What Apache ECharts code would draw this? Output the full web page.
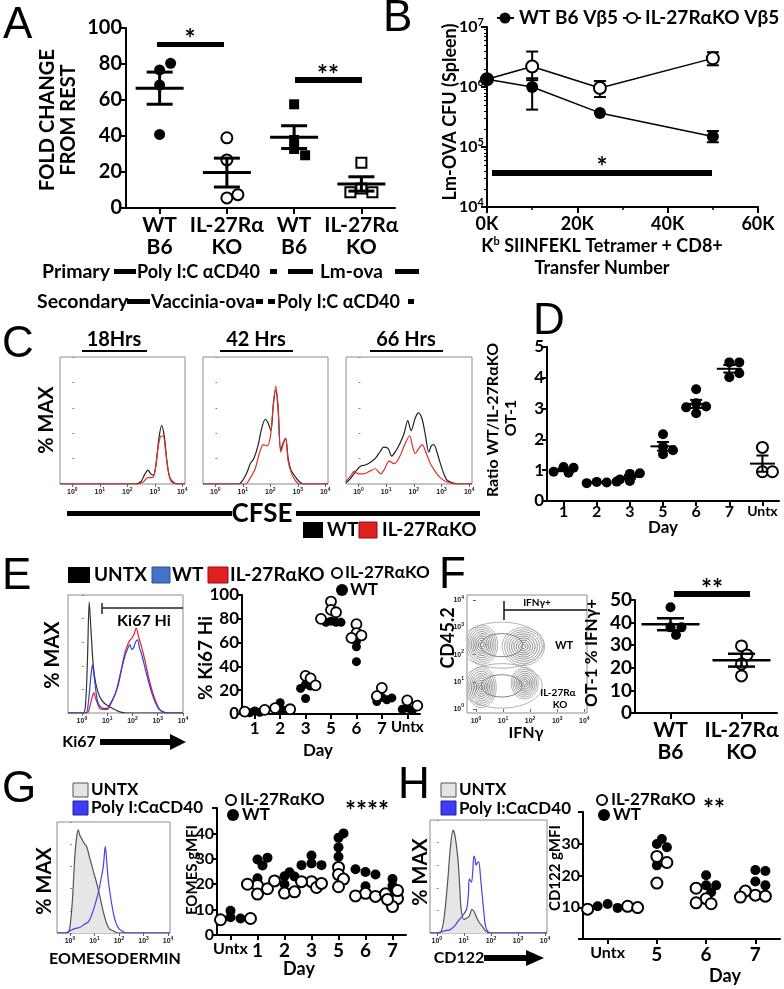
<!DOCTYPE html>
<html><head><meta charset="utf-8">
<script src="https://cdn.jsdelivr.net/npm/echarts@6/dist/echarts.min.js"></script>
<style>html,body{margin:0;padding:0;background:#fff}#c{width:784px;height:989px}</style>
</head><body><div id="c"></div>
<script>
const FF = 'Lato, "Open Sans", sans-serif';

// ---------- DATA ----------
// A
const aCats = ['WT\nB6', 'IL-27R\u03b1\nKO', 'WT\nB6', 'IL-27R\u03b1\nKO'];
const aWT_poly = [76.7, 80.4, 68.3, 40.9];
const aKO_poly = [39.0, 26.7, 5.6, 7.4];
const aWT_lm = [57.6, 37.8, 32.8, 29.3];
const aKO_lm = [25.2, 10.9, 8.7, 8.7];
// B
const bX = [0, 10000, 25000, 50000];
const bWT = [1.35e6, 1.0e6, 3.7e5, 1.5e5];
const bWTlo = [1.35e6, 4.2e5, 3.7e5, 1.2e5];
const bWThi = [1.35e6, 1.4e6, 3.7e5, 1.85e5];
const bKO = [1.35e6, 2.2e6, 9.6e5, 3.0e6];
const bKOlo = [1.35e6, 1.3e6, 6.8e5, 2.3e6];
const bKOhi = [1.35e6, 3.9e6, 1.26e6, 3.8e6];
// C (x = log10 CFSE, y = % max)
const c18WT = [[-0.45,0],[2.3,0],[2.5,2],[2.62,7],[2.75,11],[2.85,8],[2.95,7],[3.05,16],[3.15,36],[3.25,46],[3.35,37],[3.45,16],[3.55,5],[3.7,1],[3.9,0],[4.1,0]];
const c18KO = [[-0.45,0],[2.4,0],[2.6,2],[2.75,5],[2.9,5],[3.0,9],[3.1,26],[3.2,37],[3.3,38],[3.4,25],[3.5,9],[3.6,2],[3.8,0],[4.1,0]];
const c42WT = [[-0.45,0],[0.85,0],[1.0,3],[1.15,9],[1.27,16],[1.4,20],[1.55,30],[1.7,45],[1.82,51],[1.92,48],[2.02,42],[2.12,65],[2.2,74],[2.28,60],[2.38,27],[2.48,33],[2.56,36],[2.65,20],[2.75,11],[2.9,6],[3.05,2],[3.2,0],[4.1,0]];
const c42KO = [[-0.45,0],[1.1,0],[1.25,4],[1.45,12],[1.6,24],[1.75,31],[1.88,30],[2.0,37],[2.1,60],[2.2,77],[2.28,62],[2.38,25],[2.48,32],[2.56,36],[2.65,18],[2.78,8],[2.9,3],[3.05,0],[4.1,0]];
const c66WT = [[-0.45,1],[-0.3,4],[-0.1,10],[0.07,14],[0.25,15],[0.42,17],[0.6,20],[0.8,26],[0.9,29],[1.07,28],[1.2,22],[1.35,26],[1.5,32],[1.65,40],[1.78,50],[1.9,42],[2.05,52],[2.17,56],[2.3,51],[2.42,38],[2.54,25],[2.63,30],[2.72,31],[2.85,24],[2.96,16],[3.1,7],[3.2,3],[3.4,1],[3.6,0],[4.1,0]];
const c66KO = [[-0.45,2],[-0.3,6],[-0.15,10],[0.0,8],[0.18,8],[0.4,10],[0.6,12],[0.8,8],[0.95,12],[1.1,18],[1.3,16],[1.5,22],[1.65,30],[1.85,38],[1.95,30],[2.05,24],[2.18,28],[2.3,31],[2.45,24],[2.6,16],[2.8,9],[2.95,5],[3.15,2],[3.3,1],[3.5,0],[4.1,0]];
// D
const dCats = ['1', '2', '3', '5', '6', '7', 'Untx'];
const dWT = [[1.1,1.08,0.92,0.95],[0.62,0.6,0.58,0.63],[0.88,0.9,0.65,0.7],[2.17,1.76,1.65,1.52],[3.63,3.17,3.07,3.04,2.85],[4.5,4.5,4.02,4.15],[]];
const dUntx = [1.74, 0.95, 0.95];
// E
const eUntxHist = [[-0.55,0],[0.05,0],[0.15,10],[0.22,45],[0.29,94],[0.36,70],[0.45,40],[0.55,25],[0.7,14],[0.9,8],[1.2,4],[1.5,1],[1.75,0],[4.0,0]];
const eWTHist = [[-0.55,0],[0.15,0],[0.25,8],[0.35,30],[0.42,41],[0.5,28],[0.6,12],[0.7,6],[0.85,4],[1.0,4],[1.15,9],[1.25,13],[1.35,18],[1.45,25],[1.58,38],[1.7,48],[1.8,54],[1.9,58],[1.97,54],[2.04,55],[2.12,60],[2.2,62],[2.28,55],[2.36,50],[2.5,38],[2.62,28],[2.75,18],[2.9,9],[3.05,3],[3.2,1],[3.4,0],[4.0,0]];
const eKOHist = [[-0.55,0],[0.2,0],[0.32,6],[0.4,13],[0.47,17],[0.55,12],[0.7,4],[0.85,3],[1.0,3],[1.15,8],[1.3,15],[1.4,22],[1.55,36],[1.7,51],[1.85,60],[1.96,63],[2.05,66],[2.15,72],[2.25,64],[2.36,56],[2.5,44],[2.62,32],[2.75,21],[2.9,11],[3.05,4],[3.2,1],[3.4,0],[4.0,0]];
const eCats = ['1', '2', '3', '5', '6', '7', 'Untx'];
const eWT = [[2.5,1.5,1],[9.5,4.5,3],[25,23.5,21.5,13],[78,77,77,77],[61,56.5,44],[14,12,10.5,13.5],[5,3,4]];
const eKO = [[3.5,2],[5,4],[32,30,24],[94.5,87.5,85.5,80],[75.5,68,66,64],[22,15],[11.5,7]];
// F
const fBlobs = [[0.22,2.37,0.58,0.72,9],[1.75,2.3,0.78,0.7,9],[0.2,0.8,0.55,0.75,9],[1.8,0.95,0.5,0.58,8],[0.95,2.35,1.55,0.85,2],[0.95,0.85,1.5,0.82,2]];
const fCats = ['WT\nB6', 'IL-27R\u03b1\nKO'];
const fWT = [46.8, 37.9, 37.9, 34.5];
const fKO = [29.7, 25.7, 21.7, 16.4];
// G
const gUntxHist = [[-0.53,0],[-0.1,0],[0.0,6],[0.1,30],[0.2,70],[0.28,88],[0.34,93],[0.4,88],[0.5,84],[0.6,80],[0.68,78],[0.8,68],[0.95,56],[1.1,44],[1.22,33],[1.35,20],[1.49,9],[1.6,4],[1.76,2],[1.95,0],[4.08,0]];
const gPolyHist = [[-0.53,0],[-0.2,0],[0.0,2],[0.2,4],[0.4,5],[0.6,8],[0.75,10],[0.88,16],[1.0,24],[1.15,36],[1.28,50],[1.36,60],[1.44,78],[1.5,64],[1.56,48],[1.66,32],[1.76,19],[1.86,10],[1.96,5],[2.1,2],[2.3,0],[4.08,0]];
const gCats = ['Untx', '1', '2', '3', '5', '6', '7'];
const gWT = [[9.5,7,6.5],[29.7,30.4,27.4,22.3],[23.1,24.7,23,20],[31.3,28.2,27.5,27.5],[38.3,40,34.5,30.8],[24.8,23.8,25.9,19.2],[22,19.4,16]];
const gKO = [[6,6.5],[19.5,18.2,16.1,20],[21.3,16.5,17],[21,18.7,20.3,21],[26.6,23.8,22,19],[16.4,15.2,15.4,16.2],[14.3,11.2,17.5,14]];
// H
const hUntxHist = [[-0.25,0],[0.1,0],[0.25,10],[0.4,45],[0.5,75],[0.6,91],[0.68,85],[0.79,63],[0.85,40],[0.9,21],[1.0,12],[1.1,13],[1.2,15],[1.3,21],[1.38,19],[1.45,15],[1.55,10],[1.68,6],[1.8,2],[1.95,0],[4.07,0]];
const hPolyHist = [[-0.25,0],[0.0,0],[0.3,2],[0.5,3],[0.65,6],[0.8,11],[0.95,15],[1.1,21],[1.17,35],[1.2,48],[1.28,45],[1.33,55],[1.37,68],[1.41,66],[1.45,60],[1.5,62],[1.55,63],[1.62,48],[1.68,33],[1.74,18],[1.8,6],[1.9,1],[2.0,0],[4.07,0]];
const hCats = ['Untx', '5', '6', '7'];
const hWT = [[11,9.8,10.3],[29.9,28.9,31.5,23.2],[16.9,20.1,16.9,14.7],[21.7,21.4,18.1,16.9]];
const hKO = [[10.3,9.4,9.9],[24.1,26,17.6],[12.7,16,11.1,11.4],[13.8,13.5,15.1,13.2]];

// ---------- BUILDERS ----------
const grids = [], xAxes = [], yAxes = [], series = [], G = [];
function grid(l, t, w, h, box) { grids.push({left: l, top: t, width: w, height: h, containLabel: false, show: !!box, borderColor: '#8c8c8c', borderWidth: 1}); return grids.length - 1; }
function ax(arr, cfg) { arr.push(cfg); return arr.length - 1; }
function lab(size, extra) { return Object.assign({color: '#000', fontSize: size, fontWeight: 'bold', fontFamily: FF}, extra || {}); }
const LINE = {show: true, onZero: false, lineStyle: {color: '#000', width: 2}};
function tick(len, extra) { return Object.assign({show: true, length: len, lineStyle: {color: '#000', width: 2}}, extra || {}); }

function swarm(groups, ppu, d, gap) {
  const placed = [], out = groups.map(g => g.map(() => 0));
  groups.forEach((g, s) => g.forEach((v, i) => {
    const y = v * ppu; const cand = [0];
    for (let k = 1; k < 14; k++) cand.push(k * d * 0.5, -k * d * 0.5);
    for (const dx of cand) {
      if (placed.every(p => Math.hypot(p.x - dx, p.y - y) >= d * gap)) { placed.push({x: dx, y}); out[s][i] = dx; break; }
    }
  }));
  return out;
}
function catScatter(xi, yi, defs, ppu, d, gap) {
  const nCat = defs[0].data.length; const offs = defs.map(() => []);
  for (let c = 0; c < nCat; c++) {
    const o = swarm(defs.map(df => df.data[c] || []), ppu, d, gap || 0.85);
    defs.forEach((df, s) => { offs[s][c] = o[s]; });
  }
  defs.forEach((df, s) => {
    const data = [];
    df.data.forEach((arr, c) => (arr || []).forEach((v, i) => data.push({value: [c, v], symbolOffset: [offs[s][c][i], 0]})));
    series.push({type: 'scatter', xAxisIndex: xi, yAxisIndex: yi, symbol: df.symbol || 'circle', symbolSize: df.size || d, data, z: 3 + s, silent: true,
      itemStyle: df.filled ? {color: '#000', opacity: 1} : {color: '#fff', borderColor: '#000', borderWidth: df.bw || 2, opacity: 1}});
  });
}
function meanSem(xi, yi, groups, mw, cw, lw) {
  const data = [];
  groups.forEach((g, c) => {
    if (!g.length) return;
    const m = g.reduce((a, b) => a + b, 0) / g.length;
    const sd = Math.sqrt(g.reduce((a, b) => a + (b - m) * (b - m), 0) / (g.length - 1));
    const se = sd / Math.sqrt(g.length);
    data.push([c, m, m - se, m + se]);
  });
  series.push({type: 'custom', xAxisIndex: xi, yAxisIndex: yi, data, z: 8, silent: true, renderItem: (p, api) => {
    const c = api.coord([api.value(0), api.value(1)]);
    const lo = api.coord([api.value(0), api.value(2)]);
    const hi = api.coord([api.value(0), api.value(3)]);
    const st = {stroke: '#000', lineWidth: lw};
    return {type: 'group', children: [
      {type: 'line', shape: {x1: c[0] - mw / 2, y1: c[1], x2: c[0] + mw / 2, y2: c[1]}, style: st},
      {type: 'line', shape: {x1: c[0], y1: lo[1], x2: c[0], y2: hi[1]}, style: st},
      {type: 'line', shape: {x1: c[0] - cw / 2, y1: lo[1], x2: c[0] + cw / 2, y2: lo[1]}, style: st},
      {type: 'line', shape: {x1: c[0] - cw / 2, y1: hi[1], x2: c[0] + cw / 2, y2: hi[1]}, style: st}]};
  }});
}
const SUP = {b: {fontSize: 7, fontWeight: 'bold', color: '#222', fontFamily: 'Liberation Sans'}, s: {fontSize: 5, fontWeight: 'bold', color: '#222', fontFamily: 'Liberation Sans', padding: [0, 0, 6, 0]}};
function flowX(gi, xr) {
  return ax(xAxes, {gridIndex: gi, type: 'value', min: xr[0], max: xr[1], axisLine: {show: false}, splitLine: {show: false},
    axisTick: {show: true, customValues: [0, 1, 2, 3, 4], length: 3, lineStyle: {color: '#666', width: 1}},
    axisLabel: {customValues: [0, 1, 2, 3, 4], margin: 3, formatter: v => '{b|10}{s|' + v + '}', rich: SUP}});
}
function flow(l, t, w, h, xr, curves) {
  const gi = grid(l, t, w, h, true);
  const xi = flowX(gi, xr);
  const yi = ax(yAxes, {gridIndex: gi, type: 'value', min: 0, max: 100, interval: 20, axisLine: {show: false}, splitLine: {show: false}, axisLabel: {show: false}, axisTick: {show: true, inside: true, length: 2, lineStyle: {color: '#888', width: 1}}});
  curves.forEach(cv => series.push({type: 'line', xAxisIndex: xi, yAxisIndex: yi, data: cv.data, showSymbol: false, symbol: 'none', smooth: 0.3, silent: true, z: cv.z || 2,
    lineStyle: {color: cv.color, width: cv.w || 1.2}, areaStyle: cv.fill ? {color: cv.fill, opacity: 1} : undefined}));
}
// graphics helpers
function T(x, y, text, size, o) {
  o = o || {};
  G.push({type: 'text', x, y, rotation: o.rot || 0, z: 50, style: {text, fontSize: size, fontWeight: o.w || 'bold', fontFamily: o.ff || FF, fill: o.c || '#000',
    align: o.a || 'center', verticalAlign: 'middle', textAlign: o.a || 'center', textVerticalAlign: 'middle', lineHeight: o.lh || size * 1.15}});
}
function R(x, y, w, h, fill, stroke, lw) { G.push({type: 'rect', z: 50, shape: {x, y, width: w, height: h}, style: {fill, stroke: stroke || null, lineWidth: lw || 0}}); }
function L(x1, y1, x2, y2, lw, c) { G.push({type: 'line', z: 50, shape: {x1, y1, x2, y2}, style: {stroke: c || '#000', lineWidth: lw}}); }
function Cir(cx, cy, r, filled) { G.push({type: 'circle', z: 51, shape: {cx, cy, r}, style: filled ? {fill: '#000'} : {fill: '#fff', stroke: '#000', lineWidth: 2}}); }
function Arrow(x1, x2, y, th, hw, hl) { R(x1, y - th / 2, x2 - x1 - hl + 2, th, '#000'); G.push({type: 'polygon', z: 50, shape: {points: [[x2 - hl, y - hw], [x2, y], [x2 - hl, y + hw]]}, style: {fill: '#000'}}); }
const LET = '44px "Liberation Sans", Arial, sans-serif';
function Letter(x, y, t) { G.push({type: 'text', x, y, z: 50, style: {text: t, font: LET, fill: '#000', align: 'left', verticalAlign: 'middle', textAlign: 'left', textVerticalAlign: 'middle'}}); }

// ---------- PANEL A ----------
{
  const gi = grid(126, 28, 269, 180);
  const xi = ax(xAxes, {gridIndex: gi, type: 'category', data: aCats, axisLine: LINE, axisTick: tick(6, {alignWithLabel: true}), splitLine: {show: false}, axisLabel: lab(21, {lineHeight: 22, margin: 6, interval: 0})});
  const yi = ax(yAxes, {gridIndex: gi, type: 'value', min: 0, max: 100, interval: 20, axisLine: LINE, axisTick: tick(6), splitLine: {show: false}, axisLabel: lab(20, {margin: 4})});
  catScatter(xi, yi, [
    {data: [aWT_poly, [], [], []], filled: true, size: 11},
    {data: [[], aKO_poly, [], []], filled: false, size: 11},
    {data: [[], [], aWT_lm, []], filled: true, symbol: 'rect', size: 10},
    {data: [[], [], [], aKO_lm], filled: false, symbol: 'rect', size: 10}], 1.8, 11, 0.8);
  meanSem(xi, yi, [aWT_poly, aKO_poly, aWT_lm, aKO_lm], 48, 26, 3);
  Letter(3, 26, 'A');
  T(58, 120, 'FOLD CHANGE\nFROM REST', 20, {rot: Math.PI / 2, lh: 21});
  R(157, 42, 67, 5, '#000'); T(190, 40, '*', 26);
  R(295, 77, 67, 6, '#000'); T(328, 76, '**', 26);
  // treatment rows
  T(42, 272, 'Primary', 19.5, {a: 'left'}); R(114, 269, 22, 5, '#000');
  T(137, 272, 'Poly I:C \u03b1CD40', 18, {a: 'left'}); R(270, 269, 7, 5, '#000');
  R(288, 269, 25, 5, '#000'); T(320, 272, 'Lm-ova', 19, {a: 'left'}); R(395, 269, 24, 5, '#000');
  T(37, 302, 'Secondary', 19.5, {a: 'left'}); R(127, 299, 23, 5, '#000');
  T(151, 302, 'Vaccinia-ova', 18.5, {a: 'left'}); R(256, 299, 7, 5, '#000');
  R(268, 299, 7, 5, '#000'); T(277, 302, 'Poly I:C \u03b1CD40', 18, {a: 'left'}); R(408, 299, 6, 5, '#000');
}
// ---------- PANEL B ----------
{
  const gi = grid(487, 27, 271, 180);
  const xi = ax(xAxes, {gridIndex: gi, type: 'value', min: 0, max: 60000, interval: 20000, axisLine: LINE, axisTick: tick(6), splitLine: {show: false},
    minorTick: {show: true, splitNumber: 2, length: 3, lineStyle: {color: '#000', width: 1.5}}, axisLabel: lab(18, {margin: 8, formatter: v => (v / 1000) + 'K'})});
  const yi = ax(yAxes, {gridIndex: gi, type: 'value', min: 4, max: 7, interval: 1, axisLine: LINE, axisTick: tick(6), splitLine: {show: false},
    axisLabel: {margin: 3, formatter: v => '{b|10}{s|' + v + '}', rich: {b: lab(16), s: lab(11, {padding: [0, 0, 10, 0]})}}});
  const minor = [];
  [4, 5, 6].forEach(n => { for (let k = 2; k <= 9; k++) minor.push(n + Math.log10(k)); });
  ax(yAxes, {gridIndex: gi, type: 'value', min: 4, max: 7, position: 'left', offset: 0, axisLine: {show: false}, splitLine: {show: false}, axisLabel: {show: false},
    axisTick: {show: true, customValues: minor, length: 3, lineStyle: {color: '#000', width: 1}}});
  const eb = (lo, hi) => bX.map((x, i) => [x, Math.log10(lo[i]), Math.log10(hi[i])]);
  const ebRender = (p, api) => {
    const a = api.coord([api.value(0), api.value(1)]), b = api.coord([api.value(0), api.value(2)]);
    if (Math.abs(a[1] - b[1]) < 1) return {type: 'group', children: []};
    const st = {stroke: '#000', lineWidth: 2};
    return {type: 'group', children: [
      {type: 'line', shape: {x1: a[0], y1: a[1], x2: b[0], y2: b[1]}, style: st},
      {type: 'line', shape: {x1: a[0] - 6, y1: a[1], x2: a[0] + 6, y2: a[1]}, style: st},
      {type: 'line', shape: {x1: b[0] - 6, y1: b[1], x2: b[0] + 6, y2: b[1]}, style: st}]};
  };
  series.push({type: 'custom', xAxisIndex: xi, yAxisIndex: yi, data: eb(bKOlo, bKOhi), renderItem: ebRender, z: 2, silent: true});
  series.push({type: 'custom', xAxisIndex: xi, yAxisIndex: yi, data: eb(bWTlo, bWThi), renderItem: ebRender, z: 2, silent: true});
  series.push({type: 'line', xAxisIndex: xi, yAxisIndex: yi, data: bX.map((x, i) => [x, Math.log10(bKO[i])]), symbol: 'circle', symbolSize: 12, silent: true, z: 3,
    lineStyle: {color: '#000', width: 1.5}, itemStyle: {color: '#fff', borderColor: '#000', borderWidth: 2}});
  series.push({type: 'line', xAxisIndex: xi, yAxisIndex: yi, data: bX.map((x, i) => [x, Math.log10(bWT[i])]), symbol: 'circle', symbolSize: 12, silent: true, z: 4,
    lineStyle: {color: '#000', width: 1.5}, itemStyle: {color: '#000'}});
  Letter(383, 19, 'B');
  L(497, 18, 514, 18, 2); Cir(505, 18, 5.5, true); T(519, 18, 'WT B6 V\u03b25', 19, {a: 'left'});
  L(623, 18, 641, 18, 2); Cir(632, 18, 5, false); T(645, 18, 'IL-27R\u03b1KO V\u03b25', 19, {a: 'left'});
  T(450, 112, 'Lm-OVA CFU (Spleen)', 18, {rot: Math.PI / 2});
  T(602, 246, 'K{sp|b} SIINFEKL Tetramer + CD8+', 18);
  G[G.length - 1].style.rich = {sp: lab(11, {padding: [0, 0, 9, 0]})};
  T(602, 268, 'Transfer Number', 18);
  R(492, 170, 220, 6, '#000'); T(602, 168, '*', 26);
}
// ---------- PANEL C ----------
{
  flow(60, 357, 125, 127, [-0.45, 4.1], [{data: c18WT, color: '#222'}, {data: c18KO, color: '#e0302a'}]);
  flow(203, 357, 125, 127, [-0.45, 4.1], [{data: c42WT, color: '#222'}, {data: c42KO, color: '#e0302a'}]);
  flow(346, 357, 126, 127, [-0.45, 4.1], [{data: c66WT, color: '#222'}, {data: c66KO, color: '#e0302a'}]);
  Letter(2, 345, 'C');
  T(114, 340, '18Hrs', 20); L(82, 351, 147, 351, 2);
  T(256, 340, '42 Hrs', 20); L(220, 351, 293, 351, 2);
  T(406, 340, '66 Hrs', 20); L(370, 351, 443, 351, 2);
  T(47, 420, '% MAX', 20, {rot: Math.PI / 2});
  R(67, 511, 165, 5, '#000'); T(262, 514, 'CFSE', 26); R(296, 511, 184, 5, '#000');
  R(303, 522, 20, 16, '#000'); T(327, 530, 'WT', 19, {a: 'left'});
  R(359, 522, 18, 16, '#e0201c', '#8a1010', 1); T(382, 530, 'IL-27R\u03b1KO', 19, {a: 'left'});
}
// ---------- PANEL D ----------
{
  const gi = grid(547, 347, 232, 154);
  const xi = ax(xAxes, {gridIndex: gi, type: 'category', data: dCats, axisLine: LINE, axisTick: tick(5, {alignWithLabel: true}), splitLine: {show: false},
    axisLabel: lab(16, {margin: 3, interval: 0, formatter: v => v === 'Untx' ? '{u|Untx}' : v, rich: {u: lab(14)}})});
  const yi = ax(yAxes, {gridIndex: gi, type: 'value', min: 0, max: 5, interval: 1, axisLine: LINE, axisTick: tick(5), splitLine: {show: false}, axisLabel: lab(17, {margin: 3})});
  catScatter(xi, yi, [{data: dWT, filled: true, size: 10}, {data: [[], [], [], [], [], [], dUntx], filled: false, size: 11}], 30.8, 10, 0.7);
  meanSem(xi, yi, dWT.slice(0, 6).concat([dUntx]), 25, 12, 2);
  Letter(533, 322, 'D');
  T(493, 420, 'Ratio WT/IL-27R\u03b1KO', 16, {rot: Math.PI / 2});
  T(511, 418, 'OT-1', 16, {rot: Math.PI / 2});
  T(663, 528, 'Day', 17);
}
// ---------- PANEL E ----------
{
  flow(68, 595, 115, 118, [-0.55, 4.0], [{data: eUntxHist, color: '#333'}, {data: eKOHist, color: '#e0202a'}, {data: eWTHist, color: '#3040d8'}]);
  const gi = grid(242, 595, 178, 119);
  const xi = ax(xAxes, {gridIndex: gi, type: 'category', data: eCats, axisLine: LINE, axisTick: tick(5, {alignWithLabel: true}), splitLine: {show: false},
    axisLabel: lab(17, {margin: 6, interval: 0, formatter: v => v === 'Untx' ? '{u|Untx}' : v, rich: {u: lab(15)}})});
  const yi = ax(yAxes, {gridIndex: gi, type: 'value', min: 0, max: 100, interval: 20, axisLine: LINE, axisTick: tick(5), splitLine: {show: false}, axisLabel: lab(17, {margin: 3})});
  catScatter(xi, yi, [{data: eWT, filled: true, size: 9}, {data: eKO, filled: false, size: 10, bw: 1.8}], 1.19, 10, 0.5);
  Letter(2, 577, 'E');
  R(68, 567, 22, 16, '#000'); T(94, 575, 'UNTX', 19, {a: 'left'});
  R(152, 567, 18, 16, '#4472c4', '#2f528f', 1); T(172, 575, 'WT', 19, {a: 'left'});
  R(208, 567, 20, 16, '#e0201c', '#8a1010', 1); T(230, 575, 'IL-27R\u03b1KO', 19, {a: 'left'});
  Cir(337, 573, 5, false); T(345, 573, 'IL-27R\u03b1KO', 17, {a: 'left'});
  Cir(342, 590, 6, true); T(350, 590, 'WT', 17, {a: 'left'});
  L(102, 608, 183, 608, 1.5, '#222'); L(102, 603, 102, 614, 1.5, '#222');
  T(144, 621, 'Ki67 Hi', 16);
  T(53, 655, '% MAX', 20, {rot: Math.PI / 2});
  T(79, 742, 'Ki67', 16); Arrow(100, 186, 742, 6, 8, 16);
  T(206, 658, '% Ki67 Hi', 19, {rot: Math.PI / 2});
  T(318, 751, 'Day', 17);
}
// ---------- PANEL F ----------
{
  const gi = grid(467, 595, 120, 118, true);
  const xi = flowX(gi, [-0.33, 4.1]);
  const yi = ax(yAxes, {gridIndex: gi, type: 'value', min: -0.15, max: 4.2, axisLine: {show: false}, splitLine: {show: false},
    axisTick: {show: true, customValues: [0, 1, 2, 3, 4], length: 3, lineStyle: {color: '#666', width: 1}},
    axisLabel: {customValues: [0, 1, 2, 3, 4], margin: 3, formatter: v => '{b|10}{s|' + v + '}', rich: SUP}});
  series.push({type: 'custom', xAxisIndex: xi, yAxisIndex: yi, data: fBlobs, clip: true, silent: true, z: 2, renderItem: (p, api) => {
    const c = api.coord([api.value(0), api.value(1)]); const sz = api.size([api.value(2), api.value(3)]); const n = api.value(4);
    const ch = [];
    for (let k = n; k >= 1; k--) {
      const f = k / n; const pts = [];
      for (let a = 0; a < 48; a++) { const t = a / 48 * 2 * Math.PI; pts.push([c[0] + Math.cos(t) * sz[0] * f, c[1] + Math.sin(t) * sz[1] * f]); }
      const g = Math.round(60 + 110 * f);
      ch.push({type: 'polygon', shape: {points: pts}, style: {fill: null, stroke: 'rgb(' + g + ',' + g + ',' + g + ')', lineWidth: 0.9}});
    }
    return {type: 'group', children: ch};
  }});
  L(504, 610, 587, 610, 1.5, '#111'); L(504, 601, 504, 620, 1.5, '#111');
  T(537, 603, 'IFN\u03b3+', 10);
  T(564, 645, 'WT', 11); T(558, 693, 'IL-27R\u03b1', 10); T(560, 705, 'KO', 10);
  T(448, 638, 'CD45.2', 18, {rot: Math.PI / 2});
  T(526, 733, 'IFN\u03b3', 16);
  Letter(439, 576, 'F');

  const g2 = grid(635, 600, 142, 113);
  const x2 = ax(xAxes, {gridIndex: g2, type: 'category', data: fCats, axisLine: LINE, axisTick: tick(6, {alignWithLabel: true}), splitLine: {show: false}, axisLabel: lab(21, {lineHeight: 22, margin: 6, interval: 0})});
  const y2 = ax(yAxes, {gridIndex: g2, type: 'value', min: 0, max: 50, interval: 10, axisLine: LINE, axisTick: tick(5), splitLine: {show: false}, axisLabel: lab(19, {margin: 3})});
  catScatter(x2, y2, [{data: [fWT, []], filled: true, size: 10}, {data: [[], fKO], filled: false, size: 11}], 2.26, 11, 0.85);
  meanSem(x2, y2, [fWT, fKO], 58, 27, 2.5);
  T(592, 653, 'OT-1 % IFN\u03b3+', 17, {rot: Math.PI / 2});
  R(674, 591, 76, 6, '#000'); T(712, 590, '**', 26);
}
// ---------- PANEL G ----------
{
  flow(57, 822, 113, 111, [-0.53, 4.08], [{data: gUntxHist, color: '#555', fill: '#e6e6e6'}, {data: gPolyHist, color: '#4a40e8', z: 3}]);
  const gi = grid(217, 808, 189, 127);
  const xi = ax(xAxes, {gridIndex: gi, type: 'category', data: gCats, axisLine: LINE, axisTick: tick(5, {alignWithLabel: true}), splitLine: {show: false},
    axisLabel: lab(19, {margin: 6, interval: 0, formatter: v => v === 'Untx' ? '{u|Untx}' : v, rich: {u: lab(16)}})});
  const yi = ax(yAxes, {gridIndex: gi, type: 'value', min: 0, max: 50, interval: 10, axisLine: LINE, axisTick: tick(5), splitLine: {show: false},
    axisLabel: lab(16, {margin: 3, formatter: v => v === 50 ? '' : String(v)})});
  catScatter(xi, yi, [{data: gWT, filled: true, size: 10}, {data: gKO, filled: false, size: 11}], 2.54, 10, 0.6);
  Letter(2, 790, 'G');
  R(73, 783, 15, 14, '#e4e4e4', '#555', 1); T(91, 790, 'UNTX', 17, {a: 'left'});
  R(73, 801, 15, 14, '#3d3df5', '#2020a0', 1); T(91, 808, 'Poly I:C\u03b1CD40', 17, {a: 'left'});
  T(45, 881, '% MAX', 20, {rot: Math.PI / 2});
  T(115, 959, 'EOMESODERMIN', 16);
  Cir(231, 800, 5, false); T(240, 800, 'IL-27R\u03b1KO', 17, {a: 'left'});
  Cir(233, 815, 6, true); T(242, 815, 'WT', 17, {a: 'left'});
  T(367, 812, '****', 26);
  T(192, 870, 'EOMES gMFI', 15, {rot: Math.PI / 2});
  T(299, 969, 'Day', 18);
}
// ---------- PANEL H ----------
{
  flow(430, 820, 117, 113, [-0.25, 4.07], [{data: hUntxHist, color: '#555', fill: '#e6e6e6'}, {data: hPolyHist, color: '#4a40e8', z: 3}]);
  const gi = grid(583, 812, 197, 127);
  const xi = ax(xAxes, {gridIndex: gi, type: 'category', data: hCats, axisLine: LINE, axisTick: tick(5, {alignWithLabel: true}), splitLine: {show: false},
    axisLabel: lab(19, {margin: 6, interval: 0, formatter: v => v === 'Untx' ? '{u|Untx}' : v, rich: {u: lab(16)}})});
  const yi = ax(yAxes, {gridIndex: gi, type: 'value', min: 0, max: 40, interval: 10, axisLine: LINE, axisTick: tick(5), splitLine: {show: false},
    axisLabel: lab(16, {margin: 3, formatter: v => (v === 0 || v === 40) ? '' : String(v)})});
  catScatter(xi, yi, [{data: hWT, filled: true, size: 10}, {data: hKO, filled: false, size: 11}], 3.175, 10, 0.7);
  Letter(398, 786, 'H');
  R(441, 783, 15, 14, '#e4e4e4', '#555', 1); T(459, 790, 'UNTX', 17, {a: 'left'});
  R(441, 801, 15, 14, '#3d3df5', '#2020a0', 1); T(459, 809, 'Poly I:C\u03b1CD40', 17, {a: 'left'});
  T(421, 872, '% MAX', 20, {rot: Math.PI / 2});
  T(459, 958, 'CD122', 16); Arrow(484, 544, 958, 6, 8, 18);
  Cir(602, 800, 5, false); T(611, 800, 'IL-27R\u03b1KO', 17, {a: 'left'});
  Cir(604, 815, 6, true); T(613, 815, 'WT', 17, {a: 'left'});
  T(714, 810, '**', 26);
  T(555, 868, 'CD122 gMFI', 15, {rot: Math.PI / 2});
  T(725, 976, 'Day', 18);
}

const chart = echarts.init(document.getElementById('c'), null, {renderer: 'canvas'});
chart.setOption({animation: false, backgroundColor: '#fff', textStyle: {fontFamily: FF}, grid: grids, xAxis: xAxes, yAxis: yAxes, series, graphic: {elements: G}});
</script></body></html>
